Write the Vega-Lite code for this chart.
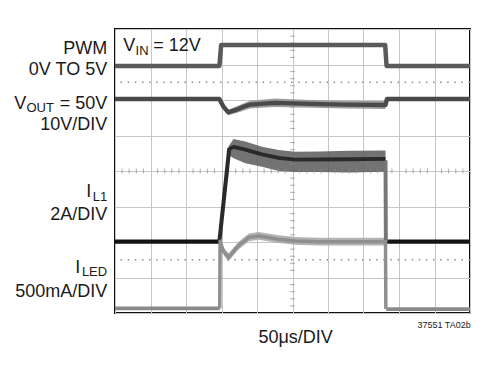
{
  "$schema": "https://vega.github.io/schema/vega-lite/v6.json",
  "width": 355,
  "height": 284,
  "autosize": {"type": "none"},
  "padding": {"left": 115, "top": 29, "right": 30, "bottom": 52},
  "background": "white",
  "config": {
    "view": {"stroke": "#111111", "strokeWidth": 2},
    "text": {"font": "Liberation Sans", "color": "#1a1a1a"},
    "axis": {"grid": true, "gridColor": "#c6c6c6", "gridWidth": 1, "labels": false, "ticks": false, "domain": false, "titleOpacity": 0},
    "axisX": {"tickCount": 10},
    "axisY": {"tickCount": 8}
  },
  "datasets": {
    "lines": [
      {"s": "PWM", "t": 0, "v": 6.96}, {"s": "PWM", "t": 2.94, "v": 6.96}, {"s": "PWM", "t": 2.99, "v": 7.55}, {"s": "PWM", "t": 7.61, "v": 7.55}, {"s": "PWM", "t": 7.65, "v": 6.96}, {"s": "PWM", "t": 10, "v": 6.96},
      {"s": "VOUT", "t": 0, "v": 6.03}, {"s": "VOUT", "t": 2.94, "v": 6.03}, {"s": "VOUT", "t": 3.05, "v": 5.82}, {"s": "VOUT", "t": 3.19, "v": 5.65}, {"s": "VOUT", "t": 3.40, "v": 5.72}, {"s": "VOUT", "t": 3.62, "v": 5.81}, {"s": "VOUT", "t": 3.80, "v": 5.87}, {"s": "VOUT", "t": 4.5, "v": 5.92}, {"s": "VOUT", "t": 5.5, "v": 5.89}, {"s": "VOUT", "t": 6.5, "v": 5.87}, {"s": "VOUT", "t": 7.62, "v": 5.86}, {"s": "VOUT", "t": 7.66, "v": 6.03}, {"s": "VOUT", "t": 10, "v": 6.03},
      {"s": "IL1 pre", "t": 0, "v": 2.01}, {"s": "IL1 pre", "t": 2.94, "v": 2.01},
      {"s": "IL1 post", "t": 7.64, "v": 2.01}, {"s": "IL1 post", "t": 10, "v": 2.01},
      {"s": "IL1 rise", "t": 2.94, "v": 2.01}, {"s": "IL1 rise", "t": 3.22, "v": 4.65},
      {"s": "IL1 fall", "t": 7.62, "v": 4.3}, {"s": "IL1 fall", "t": 7.63, "v": 2.01},
      {"s": "IL1 mid", "t": 3.22, "v": 4.62}, {"s": "IL1 mid", "t": 3.34, "v": 4.68}, {"s": "IL1 mid", "t": 3.67, "v": 4.60}, {"s": "IL1 mid", "t": 4.14, "v": 4.47}, {"s": "IL1 mid", "t": 4.61, "v": 4.37}, {"s": "IL1 mid", "t": 5.08, "v": 4.32}, {"s": "IL1 mid", "t": 6.6, "v": 4.33}, {"s": "IL1 mid", "t": 7.62, "v": 4.34},
      {"s": "ILED pre", "t": 0, "v": 0.13}, {"s": "ILED pre", "t": 2.95, "v": 0.13},
      {"s": "ILED post", "t": 7.64, "v": 0.11}, {"s": "ILED post", "t": 10, "v": 0.11},
      {"s": "ILED on", "t": 2.95, "v": 0.13}, {"s": "ILED on", "t": 2.96, "v": 2.02}, {"s": "ILED on", "t": 3.06, "v": 1.73}, {"s": "ILED on", "t": 3.20, "v": 1.57}, {"s": "ILED on", "t": 3.48, "v": 1.90}, {"s": "ILED on", "t": 3.77, "v": 2.13}, {"s": "ILED on", "t": 4.05, "v": 2.17}, {"s": "ILED on", "t": 4.61, "v": 2.08}, {"s": "ILED on", "t": 5.08, "v": 2.03}, {"s": "ILED on", "t": 5.74, "v": 2.01}, {"s": "ILED on", "t": 7.62, "v": 2.01}, {"s": "ILED on", "t": 7.63, "v": 0.11}
    ],
    "bands": [
      {"s": "VOUT on", "t": 3.05, "lo": 5.75, "hi": 5.89}, {"s": "VOUT on", "t": 3.19, "lo": 5.58, "hi": 5.72}, {"s": "VOUT on", "t": 3.40, "lo": 5.63, "hi": 5.81}, {"s": "VOUT on", "t": 3.80, "lo": 5.76, "hi": 5.98}, {"s": "VOUT on", "t": 4.5, "lo": 5.80, "hi": 6.04}, {"s": "VOUT on", "t": 5.5, "lo": 5.78, "hi": 6.0}, {"s": "VOUT on", "t": 6.5, "lo": 5.76, "hi": 5.98}, {"s": "VOUT on", "t": 7.62, "lo": 5.75, "hi": 5.97},
      {"s": "IL1 on", "t": 3.20, "lo": 4.45, "hi": 4.70}, {"s": "IL1 on", "t": 3.34, "lo": 4.36, "hi": 4.90}, {"s": "IL1 on", "t": 3.67, "lo": 4.22, "hi": 4.83}, {"s": "IL1 on", "t": 4.14, "lo": 4.12, "hi": 4.68}, {"s": "IL1 on", "t": 4.61, "lo": 4.0, "hi": 4.59}, {"s": "IL1 on", "t": 5.08, "lo": 3.97, "hi": 4.54}, {"s": "IL1 on", "t": 5.74, "lo": 3.97, "hi": 4.55}, {"s": "IL1 on", "t": 6.62, "lo": 3.96, "hi": 4.57}, {"s": "IL1 on", "t": 7.62, "lo": 3.98, "hi": 4.58},
      {"s": "ILED on", "t": 3.06, "lo": 1.63, "hi": 1.83}, {"s": "ILED on", "t": 3.20, "lo": 1.46, "hi": 1.68}, {"s": "ILED on", "t": 3.48, "lo": 1.79, "hi": 2.01}, {"s": "ILED on", "t": 3.77, "lo": 2.02, "hi": 2.24}, {"s": "ILED on", "t": 4.05, "lo": 2.06, "hi": 2.28}, {"s": "ILED on", "t": 4.61, "lo": 1.97, "hi": 2.19}, {"s": "ILED on", "t": 5.08, "lo": 1.92, "hi": 2.14}, {"s": "ILED on", "t": 5.74, "lo": 1.90, "hi": 2.12}, {"s": "ILED on", "t": 7.62, "lo": 1.90, "hi": 2.12}
    ],
    "minor": [
      {"t": 0.2}, {"t": 0.4}, {"t": 0.6}, {"t": 0.8}, {"t": 1.2}, {"t": 1.4}, {"t": 1.6}, {"t": 1.8}, {"t": 2.2}, {"t": 2.4}, {"t": 2.6}, {"t": 2.8}, {"t": 3.2}, {"t": 3.4}, {"t": 3.6}, {"t": 3.8}, {"t": 4.2}, {"t": 4.4}, {"t": 4.6}, {"t": 4.8}, {"t": 5.2}, {"t": 5.4}, {"t": 5.6}, {"t": 5.8}, {"t": 6.2}, {"t": 6.4}, {"t": 6.6}, {"t": 6.8}, {"t": 7.2}, {"t": 7.4}, {"t": 7.6}, {"t": 7.8}, {"t": 8.2}, {"t": 8.4}, {"t": 8.6}, {"t": 8.8}, {"t": 9.2}, {"t": 9.4}, {"t": 9.6}, {"t": 9.8}
    ],
    "dotted": [{"d": 6.5}, {"d": 1.5}],
    "one": [{}]
  },
  "layer": [
    {
      "data": {"name": "bands"},
      "mark": {"type": "area", "opacity": 0.85},
      "encoding": {
        "x": {"field": "t", "type": "quantitative", "scale": {"domain": [0, 10], "nice": false, "zero": false}, "title": null},
        "y": {"field": "lo", "type": "quantitative", "stack": null, "scale": {"domain": [0, 8], "nice": false, "zero": false}, "title": null},
        "y2": {"field": "hi"},
        "fill": {"field": "s", "type": "nominal", "legend": null,
                 "scale": {"domain": ["VOUT on", "IL1 on", "ILED on"], "range": ["#8e8e8e", "#5a5a5a", "#a6a6a6"]}}
      }
    },
    {
      "data": {"name": "dotted"},
      "mark": {"type": "rule", "color": "#8c8c8c", "strokeWidth": 1.3, "strokeDash": [1.5, 5.6]},
      "encoding": {"y": {"field": "d", "type": "quantitative"}}
    },
    {
      "data": {"name": "minor"},
      "mark": {"type": "tick", "orient": "vertical", "size": 5, "thickness": 1, "color": "#8c8c8c"},
      "encoding": {"x": {"field": "t", "type": "quantitative"}, "y": {"datum": 4, "type": "quantitative"}}
    },
    {
      "data": {"name": "minor"},
      "transform": [{"filter": "datum.t < 8"}],
      "mark": {"type": "tick", "orient": "horizontal", "size": 5, "thickness": 1, "color": "#8c8c8c"},
      "encoding": {"y": {"field": "t", "type": "quantitative"}, "x": {"datum": 5, "type": "quantitative"}}
    },
    {
      "data": {"name": "lines"},
      "mark": {"type": "line", "strokeJoin": "round"},
      "encoding": {
        "x": {"field": "t", "type": "quantitative"},
        "y": {"field": "v", "type": "quantitative"},
        "stroke": {"field": "s", "type": "nominal", "legend": null,
                   "scale": {"domain": ["PWM", "VOUT", "IL1 pre", "IL1 post", "IL1 rise", "IL1 fall", "IL1 mid", "ILED pre", "ILED post", "ILED on"],
                             "range": ["#5a5a5a", "#4a4a4a", "#141414", "#141414", "#2a2a2a", "#777777", "#2a2a2a", "#8a8a8a", "#8a8a8a", "#8f8f8f"]}},
        "strokeWidth": {"field": "s", "type": "nominal", "legend": null,
                   "scale": {"domain": ["PWM", "VOUT", "IL1 pre", "IL1 post", "IL1 rise", "IL1 fall", "IL1 mid", "ILED pre", "ILED post", "ILED on"],
                             "range": [4.5, 3.5, 6, 6, 1.8, 1.2, 2.5, 3, 3, 1.5]}}
      }
    },
    {"data": {"name": "one"}, "mark": {"type": "text", "text": "PWM", "align": "right", "baseline": "alphabetic", "fontSize": 18}, "encoding": {"x": {"datum": -0.22, "type": "quantitative"}, "y": {"datum": 7.29, "type": "quantitative"}}},
    {"data": {"name": "one"}, "mark": {"type": "text", "text": "0V TO 5V", "align": "right", "baseline": "alphabetic", "fontSize": 18}, "encoding": {"x": {"datum": -0.22, "type": "quantitative"}, "y": {"datum": 6.70, "type": "quantitative"}}},
    {"data": {"name": "one"}, "mark": {"type": "text", "text": "V", "align": "right", "baseline": "alphabetic", "fontSize": 18}, "encoding": {"x": {"datum": -2.50, "type": "quantitative"}, "y": {"datum": 5.74, "type": "quantitative"}}},
    {"data": {"name": "one"}, "mark": {"type": "text", "text": "OUT", "align": "right", "baseline": "alphabetic", "fontSize": 13}, "encoding": {"x": {"datum": -1.72, "type": "quantitative"}, "y": {"datum": 5.66, "type": "quantitative"}}},
    {"data": {"name": "one"}, "mark": {"type": "text", "text": "= 50V", "align": "right", "baseline": "alphabetic", "fontSize": 18}, "encoding": {"x": {"datum": -0.22, "type": "quantitative"}, "y": {"datum": 5.74, "type": "quantitative"}}},
    {"data": {"name": "one"}, "mark": {"type": "text", "text": "10V/DIV", "align": "right", "baseline": "alphabetic", "fontSize": 18}, "encoding": {"x": {"datum": -0.22, "type": "quantitative"}, "y": {"datum": 5.15, "type": "quantitative"}}},
    {"data": {"name": "one"}, "mark": {"type": "text", "text": "I", "align": "right", "baseline": "alphabetic", "fontSize": 18}, "encoding": {"x": {"datum": -0.67, "type": "quantitative"}, "y": {"datum": 3.26, "type": "quantitative"}}},
    {"data": {"name": "one"}, "mark": {"type": "text", "text": "L1", "align": "right", "baseline": "alphabetic", "fontSize": 13}, "encoding": {"x": {"datum": -0.22, "type": "quantitative"}, "y": {"datum": 3.16, "type": "quantitative"}}},
    {"data": {"name": "one"}, "mark": {"type": "text", "text": "2A/DIV", "align": "right", "baseline": "alphabetic", "fontSize": 18}, "encoding": {"x": {"datum": -0.22, "type": "quantitative"}, "y": {"datum": 2.62, "type": "quantitative"}}},
    {"data": {"name": "one"}, "mark": {"type": "text", "text": "I", "align": "right", "baseline": "alphabetic", "fontSize": 18}, "encoding": {"x": {"datum": -0.98, "type": "quantitative"}, "y": {"datum": 1.13, "type": "quantitative"}}},
    {"data": {"name": "one"}, "mark": {"type": "text", "text": "LED", "align": "right", "baseline": "alphabetic", "fontSize": 13}, "encoding": {"x": {"datum": -0.22, "type": "quantitative"}, "y": {"datum": 1.03, "type": "quantitative"}}},
    {"data": {"name": "one"}, "mark": {"type": "text", "text": "500mA/DIV", "align": "right", "baseline": "alphabetic", "fontSize": 18}, "encoding": {"x": {"datum": -0.22, "type": "quantitative"}, "y": {"datum": 0.46, "type": "quantitative"}}},
    {"data": {"name": "one"}, "mark": {"type": "text", "text": "V", "align": "left", "baseline": "alphabetic", "fontSize": 18}, "encoding": {"x": {"datum": 0.23, "type": "quantitative"}, "y": {"datum": 7.38, "type": "quantitative"}}},
    {"data": {"name": "one"}, "mark": {"type": "text", "text": "IN", "align": "left", "baseline": "alphabetic", "fontSize": 13}, "encoding": {"x": {"datum": 0.58, "type": "quantitative"}, "y": {"datum": 7.26, "type": "quantitative"}}},
    {"data": {"name": "one"}, "mark": {"type": "text", "text": "= 12V", "align": "left", "baseline": "alphabetic", "fontSize": 18}, "encoding": {"x": {"datum": 1.08, "type": "quantitative"}, "y": {"datum": 7.38, "type": "quantitative"}}},
    {"data": {"name": "one"}, "mark": {"type": "text", "text": "50μs/DIV", "align": "left", "baseline": "alphabetic", "fontSize": 18}, "encoding": {"x": {"datum": 4.04, "type": "quantitative"}, "y": {"datum": -0.84, "type": "quantitative"}}},
    {"data": {"name": "one"}, "mark": {"type": "text", "text": "37551 TA02b", "align": "right", "baseline": "alphabetic", "fontSize": 9}, "encoding": {"x": {"datum": 10.02, "type": "quantitative"}, "y": {"datum": -0.43, "type": "quantitative"}}}
  ]
}
